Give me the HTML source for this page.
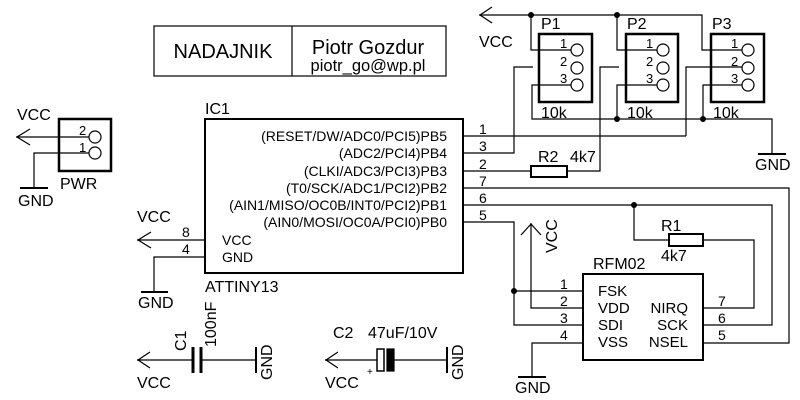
<!DOCTYPE html>
<html><head><meta charset="utf-8"><style>
html,body{margin:0;padding:0;background:#fff;}
svg{display:block;font-family:"Liberation Sans",sans-serif;}
</style></head><body>
<svg width="800" height="400" viewBox="0 0 800 400" xmlns="http://www.w3.org/2000/svg">
<g fill="none" stroke="#000" stroke-width="1.2">
<rect x="154" y="26" width="292" height="50"/>
<line x1="292" y1="26" x2="292" y2="76"/>
<rect x="59" y="119" width="52" height="52" stroke-width="2.5"/>
<circle cx="95" cy="137" r="6"/><circle cx="95" cy="153" r="6"/>
<polyline points="16,137 89,137"/>
<polyline points="89,153 34,153 34,188"/>
<line x1="20" y1="188" x2="48" y2="188" stroke-width="2"/>
<polyline points="30,129 17,137 30,145"/>
<rect x="205" y="119" width="258" height="154" stroke-width="2"/>
<line x1="137" y1="240" x2="205" y2="240"/>
<polyline points="151,232 138,240 151,248"/>
<polyline points="205,257 154,257 154,292"/>
<line x1="141" y1="292" x2="168" y2="292" stroke-width="2"/>
<line x1="463" y1="136" x2="686" y2="136"/>
<polyline points="463,153 514,153 514,67 533,67"/>
<line x1="463" y1="171" x2="531" y2="171"/>
<rect x="531" y="166" width="36" height="11" stroke-width="2"/>
<polyline points="567,171 600,171 600,67 619,67"/>
<polyline points="463,188 789,188 789,343 703,343"/>
<polyline points="463,205 772,205 772,325 703,325"/>
<polyline points="463,222 514,222 514,325 583,325"/>
<line x1="514" y1="291" x2="583" y2="291"/>
<polyline points="531,223 531,308 583,308"/>
<polyline points="521,235 531,224 541,235"/>
<polyline points="583,343 532,343 532,377"/>
<line x1="518" y1="377" x2="546" y2="377" stroke-width="2"/>
<polyline points="634,205 634,240 669,240"/>
<rect x="669" y="234" width="34" height="12" stroke-width="2"/>
<polyline points="703,240 754,240 754,308 703,308"/>
<rect x="583" y="274" width="120" height="86" stroke-width="2"/>
<polyline points="479,15 702,15 702,50 742,50"/>
<polyline points="492,7 480,15 492,23"/>
<polyline points="531,15 531,50 571,50"/>
<polyline points="617,15 617,50 657,50"/>
<polyline points="571,85 532,85 532,119 772,119 772,154"/>
<polyline points="657,85 617,85 617,119"/>
<polyline points="742,85 703,85 703,119"/>
<polyline points="686,136 686,67 742,67"/>
<line x1="758" y1="154" x2="786" y2="154" stroke-width="2"/>
<rect x="539" y="34" width="53" height="68" stroke-width="2.5"/>
<rect x="626" y="34" width="52" height="68" stroke-width="2.5"/>
<rect x="711" y="34" width="53" height="68" stroke-width="2.5"/>
<circle cx="577" cy="50" r="6"/><circle cx="577" cy="68" r="6"/><circle cx="577" cy="85" r="6"/>
<circle cx="663" cy="50" r="6"/><circle cx="663" cy="68" r="6"/><circle cx="663" cy="85" r="6"/>
<circle cx="748" cy="50" r="6"/><circle cx="748" cy="68" r="6"/><circle cx="748" cy="85" r="6"/>
<line x1="137" y1="360" x2="193" y2="360"/><line x1="201" y1="360" x2="256" y2="360"/>
<polyline points="150,352 138,360 150,368"/>
<line x1="193" y1="347" x2="193" y2="373" stroke-width="3"/>
<line x1="201" y1="347" x2="201" y2="373" stroke-width="3"/>
<line x1="256" y1="347" x2="256" y2="373" stroke-width="2"/>
<line x1="325" y1="360" x2="377" y2="360"/><line x1="394" y1="360" x2="447" y2="360"/>
<polyline points="338,352 326,360 338,368"/>
<rect x="377" y="349" width="7" height="22" stroke-width="1.5"/>
<rect x="387" y="349" width="7" height="22" fill="#000"/>
<line x1="447" y1="347" x2="447" y2="373" stroke-width="2"/>
</g>
<g fill="#000">
<circle cx="531" cy="15" r="3"/><circle cx="617" cy="15" r="3"/>
<circle cx="617" cy="119" r="3"/><circle cx="703" cy="119" r="3"/>
<circle cx="634" cy="205" r="3"/><circle cx="514" cy="291" r="3"/>
</g>
<g font-size="16" fill="#000">
<text x="223" y="58" font-size="20" text-anchor="middle">NADAJNIK</text>
<text x="368" y="54" font-size="20" text-anchor="middle">Piotr Gozdur</text>
<text x="368" y="71" font-size="16.5" text-anchor="middle">piotr_go@wp.pl</text>
<text x="17" y="120">VCC</text>
<text x="18" y="206">GND</text>
<text x="60" y="189">PWR</text>
<text x="79" y="135" font-size="13">2</text><text x="79" y="152" font-size="13">1</text>
<text x="205" y="114">IC1</text>
<text x="205" y="292">ATTINY13</text>
<text x="137" y="222">VCC</text>
<text x="138" y="308">GND</text>
<text x="182" y="237" font-size="14">8</text><text x="182" y="254" font-size="14">4</text>
<text x="222" y="245" font-size="14">VCC</text><text x="222" y="262" font-size="14">GND</text>
<g font-size="14" text-anchor="end">
<text x="447" y="141">(RESET/DW/ADC0/PCI5)PB5</text>
<text x="447" y="158">(ADC2/PCI4)PB4</text>
<text x="447" y="176">(CLKI/ADC3/PCI3)PB3</text>
<text x="447" y="193">(T0/SCK/ADC1/PCI2)PB2</text>
<text x="447" y="210">(AIN1/MISO/OC0B/INT0/PCI2)PB1</text>
<text x="447" y="227">(AIN0/MOSI/OC0A/PCI0)PB0</text>
</g>
<g font-size="14">
<text x="479" y="134">1</text><text x="479" y="151">3</text><text x="479" y="169">2</text>
<text x="479" y="186">7</text><text x="479" y="203">6</text><text x="479" y="220">5</text>
<text x="560" y="289">1</text><text x="560" y="306">2</text><text x="560" y="323">3</text><text x="560" y="340">4</text>
<text x="718" y="306">7</text><text x="718" y="323">6</text><text x="718" y="340">5</text>
</g>
<g font-size="15">
<text x="598" y="296">FSK</text>
<text x="598" y="313">VDD</text>
<text x="598" y="330">SDI</text>
<text x="598" y="347">VSS</text>
<text x="688" y="313" text-anchor="end">NIRQ</text>
<text x="688" y="330" text-anchor="end">SCK</text>
<text x="688" y="347" text-anchor="end">NSEL</text>
</g>
<text x="593" y="269">RFM02</text>
<text x="661" y="231">R1</text>
<text x="661" y="261">4k7</text>
<text x="538" y="162">R2</text>
<text x="570" y="162">4k7</text>
<text transform="translate(557,253) rotate(-90)">VCC</text>
<text x="515" y="393">GND</text>
<text x="755" y="170">GND</text>
<text x="479" y="47">VCC</text>
<text x="541" y="29">P1</text><text x="627" y="29">P2</text><text x="712" y="29">P3</text>
<g font-size="13">
<text x="560" y="48">1</text><text x="560" y="66">2</text><text x="560" y="83">3</text>
<text x="646" y="48">1</text><text x="646" y="66">2</text><text x="646" y="83">3</text>
<text x="731" y="48">1</text><text x="731" y="66">2</text><text x="731" y="83">3</text>
</g>
<text x="541" y="118">10k</text><text x="627" y="118">10k</text><text x="713" y="118">10k</text>
<text transform="translate(186,351) rotate(-90)">C1</text>
<text transform="translate(216,347) rotate(-90)">100nF</text>
<text transform="translate(272,380) rotate(-90)">GND</text>
<text transform="translate(463,380) rotate(-90)">GND</text>
<text x="137" y="388">VCC</text>
<text x="325" y="388">VCC</text>
<text x="333" y="338">C2</text>
<text x="368" y="338">47uF/10V</text>
<text x="367" y="375" font-size="10">+</text>
</g>
</svg>
</body></html>
